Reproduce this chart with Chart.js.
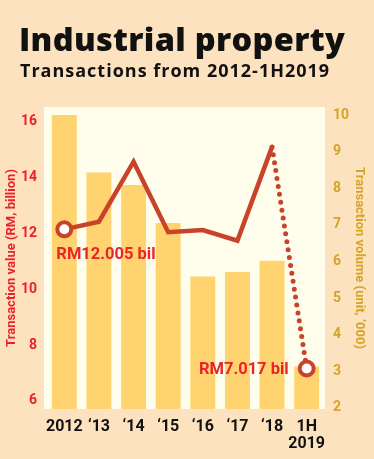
<!DOCTYPE html>
<html>
<head>
<meta charset="utf-8">
<script src="https://cdn.jsdelivr.net/npm/chart.js@4"></script>
<style>
  html, body { margin: 0; padding: 0; }
  body { width: 374px; height: 459px; background: #fde2bf; position: relative; overflow: hidden; }
  #title { position: absolute; left: 19px; top: 16px; font: 800 32.5px "Open Sans", sans-serif; color: #111; letter-spacing: 0.3px; white-space: nowrap; }
  #subtitle { position: absolute; left: 20px; top: 58px; font: 700 18px "Open Sans", sans-serif; color: #111; letter-spacing: 1px; white-space: nowrap; }
  #wrap { position: absolute; left: 0; top: 0; width: 374px; height: 459px; }
</style>
</head>
<body>
<div id="wrap"><canvas id="chart" width="374" height="459"></canvas></div>
<div id="title">Industrial property</div>
<div id="subtitle">Transactions from 2012-1H2019</div>
<script>
const years = ["2012", "\u201813", "\u201814", "\u201815", "\u201816", "\u201817", "\u201818", ["1H", "2019"]];
const valueBil = [12.005, 12.28, 14.43, 11.9, 11.98, 11.6, 14.96, 7.017];
const volumeK = [10.0, 8.43, 8.09, 7.05, 5.59, 5.71, 6.02, 3.13];
const valueTicks = [6, 8, 10, 12, 14, 16];
const volumeTicks = [2, 3, 4, 5, 6, 7, 8, 9, 10];
const valueLabels = ["RM12.005 bil", "RM7.017 bil"];

const RED = "#c9432a";
const last = valueBil.length - 1;

const plotBg = {
  id: "plotBg",
  beforeDraw(chart) {
    const a = chart.chartArea;
    const ctx = chart.ctx;
    ctx.save();
    ctx.fillStyle = "#fffdeb";
    ctx.fillRect(a.left - 3, a.top, a.right - a.left + 4, a.bottom - a.top);
    ctx.restore();
  },
};

const pointLabels = {
  id: "pointLabels",
  afterDatasetsDraw(chart) {
    const pts = chart.getDatasetMeta(0).data;
    const ctx = chart.ctx;
    ctx.save();
    ctx.fillStyle = "#e8242a";
    ctx.font = "bold 16.5px Roboto";
    ctx.textBaseline = "middle";
    ctx.textAlign = "left";
    ctx.fillText(valueLabels[0], pts[0].x - 8, pts[0].y + 26);
    ctx.textAlign = "right";
    ctx.fillText(valueLabels[1], pts[last].x - 18, pts[last].y + 1);
    ctx.restore();
  },
};

new Chart(document.getElementById("chart"), {
  data: {
    labels: years,
    datasets: [
      {
        type: "line",
        data: valueBil,
        yAxisID: "y",
        order: 0,
        borderColor: RED,
        borderWidth: 4.5,
        borderJoinStyle: "miter",
        pointRadius: (c) => (c.dataIndex === 0 || c.dataIndex === last ? 7 : 0),
        pointBorderWidth: 4,
        pointBorderColor: RED,
        pointBackgroundColor: "#fff",
        segment: {
          borderDash: (c) => (c.p1DataIndex === last ? [0, 8] : undefined),
          borderCapStyle: (c) => (c.p1DataIndex === last ? "round" : "butt"),
          borderWidth: (c) => (c.p1DataIndex === last ? 5 : 4.5),
        },
      },
      {
        type: "bar",
        data: volumeK,
        yAxisID: "y2",
        order: 1,
        backgroundColor: "#ffd470",
        categoryPercentage: 1,
        barPercentage: 0.72,
      },
    ],
  },
  options: {
    responsive: false,
    animation: false,
    layout: { padding: { top: 107, left: 0, right: 0, bottom: 0 } },
    plugins: { legend: { display: false }, tooltip: { enabled: false } },
    scales: {
      x: {
        grid: { display: false, drawTicks: false },
        border: { display: false },
        ticks: {
          color: "#111",
          padding: 10,
          maxRotation: 0,
          autoSkip: false,
          font: { family: "Roboto", weight: "bold", size: 16, lineHeight: 1.05 },
        },
        afterFit: (s) => { s.height = 50; },
      },
      y: {
        position: "left",
        min: 5.565,
        max: 16.39,
        grid: { display: false, drawTicks: false },
        border: { display: false },
        afterBuildTicks: (s) => { s.ticks = valueTicks.map((v) => ({ value: v })); },
        ticks: {
          color: "#e8242a",
          padding: 10,
          labelOffset: 4,
          font: { family: "Roboto", weight: "bold", size: 14 },
        },
        title: {
          display: true,
          text: "Transaction value (RM, billion)",
          color: "#e8242a",
          padding: { top: 4, bottom: 0 },
          font: { family: "Roboto", weight: "bold", size: 13 },
        },
        afterFit: (s) => { s.width = 47; },
      },
      y2: {
        position: "right",
        min: 1.97,
        max: 10.22,
        grid: { display: false, drawTicks: false },
        border: { display: false },
        afterBuildTicks: (s) => { s.ticks = volumeTicks.map((v) => ({ value: v })); },
        ticks: {
          color: "#d4a42a",
          padding: 9,
          font: { family: "Roboto", weight: "bold", size: 14 },
        },
        title: {
          display: true,
          text: "Transaction volume (unit, \u2018000)",
          color: "#d4a42a",
          padding: { top: 7, bottom: 0 },
          font: { family: "Roboto", weight: "bold", size: 13 },
        },
        afterFit: (s) => { s.width = 50; },
      },
    },
  },
  plugins: [plotBg, pointLabels],
});
</script>
</body>
</html>
